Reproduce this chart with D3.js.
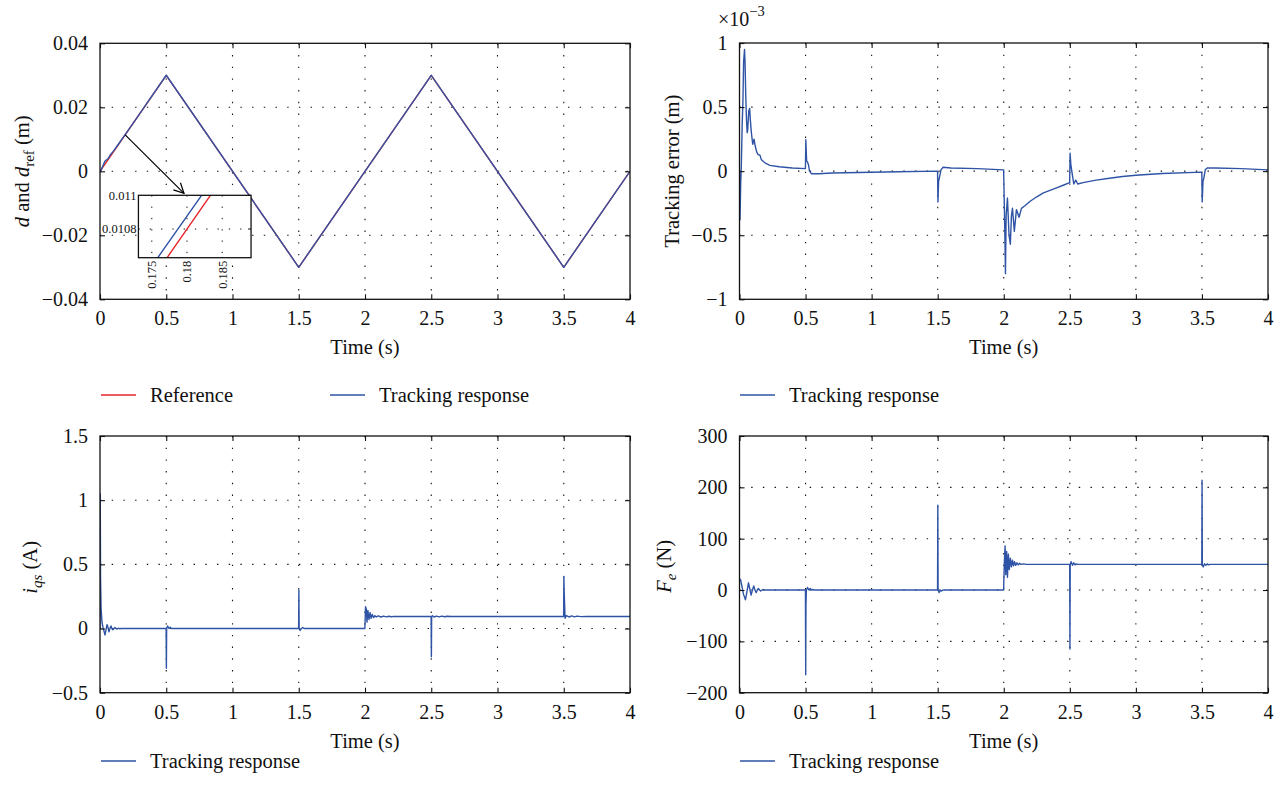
<!DOCTYPE html>
<html><head><meta charset="utf-8">
<script src="https://cdn.jsdelivr.net/npm/d3@7"></script>
<style>
body{margin:0;background:#fff}
svg{display:block}
text{font-family:"Liberation Serif","Times New Roman",serif;fill:#111}
</style>
</head><body>
<svg id="c" width="1285" height="805"></svg>
<script>
// ---------------- data ----------------
const timeTicks = [0,0.5,1,1.5,2,2.5,3,3.5,4];
const dTicks = [-0.04,-0.02,0,0.02,0.04];
const errTicks = [-1,-0.5,0,0.5,1];
const iqsTicks = [-0.5,0,0.5,1,1.5];
const feTicks = [-200,-100,0,100,200,300];
const insetXTicks = [0.175,0.18,0.185];
const insetYTicks = [0.0108,0.011];

// reference position d_ref (m)
const refT = [0,0.5,1.5,2.5,3.5,4];
const refD = [0,0.03,-0.03,0.03,-0.03,0];

// tracking response d (m)
const trackT = [0,0.004,0.012,0.02,0.03,0.038,0.05,0.06,0.08,0.1,0.14,0.175,0.19,0.3,0.5,1.5,2.5,3.5,4];
const trackD = [0,-0.00014,0.0007,0.0015,0.0025,0.00323,0.0036,0.0039,0.00529,0.00622,0.00853,0.01058,0.01147,0.01803,0.03002,-0.03,0.03,-0.03,0];

// tracking error (x1e-3 m)
const errT = [0,0.004,0.009,0.014,0.02,0.026,0.031,0.038,0.042,0.047,0.053,0.058,0.062,0.07,0.077,0.082,0.09,0.1,0.11,0.118,0.13,0.14,0.155,0.165,0.18,0.2,0.23,0.3,0.4,0.499,
  0.502,0.508,0.515,0.522,0.53,0.545,0.6,0.7,0.9,1.2,1.499,1.502,1.507,1.513,1.525,1.54,1.6,1.8,1.999,
  2.005,2.01,2.013,2.018,2.028,2.04,2.05,2.058,2.066,2.08,2.096,2.116,2.134,2.16,2.2,2.25,2.3,2.35,2.4,2.45,2.499,
  2.502,2.508,2.515,2.53,2.545,2.56,2.6,2.7,2.8,2.9,3.0,3.2,3.499,3.502,3.508,3.515,3.525,3.54,3.6,3.8,4];
const errV = [0,-0.38,-0.1,0.05,0.35,0.55,0.85,0.95,0.85,0.6,0.4,0.3,0.32,0.47,0.49,0.4,0.3,0.21,0.25,0.2,0.15,0.13,0.125,0.09,0.075,0.06,0.045,0.034,0.025,0.02,
  0.245,0.08,0.07,0.05,0,-0.02,-0.02,-0.015,-0.01,-0.005,0,-0.24,-0.08,-0.05,0.01,0.03,0.025,0.02,0.01,
  -0.3,-0.6,-0.8,-0.35,-0.21,-0.5,-0.57,-0.35,-0.29,-0.47,-0.3,-0.36,-0.29,-0.27,-0.235,-0.2,-0.17,-0.15,-0.13,-0.11,-0.09,
  0.14,0.05,0,-0.1,-0.07,-0.1,-0.09,-0.07,-0.055,-0.042,-0.032,-0.018,-0.008,-0.24,-0.08,-0.05,0.01,0.025,0.025,0.02,0.01];

// i_qs (A)
const iqsT = [0,0.002,0.004,0.008,0.015,0.022,0.03,0.038,0.045,0.053,0.06,0.068,0.075,0.083,0.09,0.098,0.105,0.113,0.12,0.13,0.14,0.15,0.16,0.18,
  0.499,0.501,0.503,0.51,0.52,0.53,0.54,1.499,1.501,1.503,1.51,1.52,1.53,1.54,
  1.999,2.004,2.01,2.015,2.022,2.03,2.038,2.046,2.055,2.065,2.075,2.085,2.1,2.12,2.14,2.16,2.18,2.2,2.22,2.25,
  2.499,2.501,2.503,2.51,2.52,2.54,2.56,2.58,2.6,2.62,2.65,3.499,3.501,3.503,3.51,3.52,3.54,3.56,3.58,3.6,3.63,3.67,4];
const iqsV = [0,1.05,0.4,0.16,0.05,0.01,-0.02,-0.05,-0.01,0.03,0.01,-0.025,0,0.02,0,-0.01,0,0.008,0,-0.004,0.003,-0.002,0.001,0,
  0,-0.31,0,0.02,0,0.01,0,0,0.3,0,-0.015,0,0.008,0,
  0,0.17,0.15,0.05,0.14,0.07,0.125,0.08,0.11,0.085,0.1,0.09,0.098,0.09,0.097,0.091,0.096,0.092,0.095,0.094,
  0.094,-0.22,0.094,0.1,0.09,0.097,0.091,0.097,0.092,0.096,0.094,0.094,0.405,0.3,0.08,0.1,0.09,0.098,0.091,0.097,0.093,0.094,0.094];

// F_e (N)
const feT = [0,0.008,0.02,0.03,0.045,0.055,0.068,0.078,0.088,0.098,0.108,0.117,0.126,0.135,0.143,0.152,0.16,0.17,0.178,0.19,
  0.499,0.501,0.503,0.506,0.515,0.525,0.535,0.545,0.555,0.565,1.499,1.501,1.503,1.51,1.52,1.53,1.54,
  1.999,2.004,2.01,2.015,2.022,2.028,2.035,2.042,2.05,2.058,2.066,2.074,2.082,2.09,2.1,2.11,2.12,2.13,2.15,2.17,2.2,
  2.499,2.501,2.503,2.51,2.52,2.53,2.54,2.55,2.56,3.499,3.501,3.503,3.51,3.52,3.53,3.54,3.55,3.56,4];
const feV = [22,20,5,-8,-19,-5,14,2,-10,0,8,0,-5,0,3,0,-2,0,1,0,
  0,-165,-30,0,5,0,3,0,1,0,0,165,0,-5,0,-2,0,
  0,50,86,30,75,25,70,40,62,45,58,47,55,48,53,49,52,50,51,50,50,
  50,-115,50,55,48,53,49,51,50,50,214,50,45,51,48,51,49,50,50];

// inset window and annotation arrow (data coordinates of the main axes)
const insetBoxT = [0.29,1.14];
const insetBoxD = [-0.027,-0.0075];
const insetDomT = [0.1731,0.1891];
const insetDomD = [0.01063,0.011];
const arrowFrom = [0.19,0.0114];
const arrowTo = [0.634,-0.0069];

// ---------------- drawing ----------------
const BLUE = "#2f54a5", RED = "#e8262b";
const TICK_FS = 20, LAB_FS = 20.5;
const svg = d3.select("#c");
const fmt = d3.format("~g");
const zip = (a,b) => a.map((v,i)=>[v,b[i]]);

const defs = svg.append("defs");
defs.append("marker").attr("id","arr").attr("viewBox","0 0 12 12")
  .attr("refX",11).attr("refY",6).attr("markerWidth",12).attr("markerHeight",12)
  .attr("markerUnits","userSpaceOnUse").attr("orient","auto")
  .append("path").attr("d","M1,1 L11,6 L1,11").attr("fill","none").attr("stroke","#000").attr("stroke-width",1.2);

let clipId = 0;
function panel(cfg){
  const x = d3.scaleLinear().domain([0,4]).range([cfg.x0,cfg.x1]);
  const y = d3.scaleLinear().domain(cfg.yDom).range([cfg.y1,cfg.y0]);
  const g = svg.append("g");
  // grid
  g.selectAll(null).data(timeTicks.filter(t=>t>0&&t<4)).enter().append("line")
    .attr("x1",d=>x(d)).attr("x2",d=>x(d)).attr("y1",cfg.y0).attr("y2",cfg.y1)
    .attr("stroke","#111").attr("stroke-width",1.1).attr("stroke-dasharray","1.4,10.3");
  g.selectAll(null).data(cfg.yTicks.filter(t=>t>cfg.yDom[0]&&t<cfg.yDom[1])).enter().append("line")
    .attr("y1",d=>y(d)).attr("y2",d=>y(d)).attr("x1",cfg.x0).attr("x2",cfg.x1)
    .attr("stroke","#111").attr("stroke-width",1.1).attr("stroke-dasharray","1.4,10.3");
  // clip
  const id = "clip"+(clipId++);
  defs.append("clipPath").attr("id",id).append("rect")
    .attr("x",cfg.x0).attr("y",cfg.y0).attr("width",cfg.x1-cfg.x0).attr("height",cfg.y1-cfg.y0);
  const line = d3.line().x(d=>x(d[0])).y(d=>y(d[1]));
  const sg = g.append("g").attr("clip-path",`url(#${id})`);
  cfg.series.forEach(s=>{
    sg.append("path").attr("d",line(s.data)).attr("fill","none")
      .attr("stroke",s.color).attr("stroke-width",1.4).attr("stroke-linejoin","round");
  });
  // axes (ticks inside, box)
  const gb = g.append("g").attr("transform",`translate(0,${cfg.y1})`)
    .call(d3.axisBottom(x).tickValues(timeTicks).tickFormat(fmt).tickSizeInner(-5).tickSizeOuter(0).tickPadding(12));
  const gt = g.append("g").attr("transform",`translate(0,${cfg.y0})`)
    .call(d3.axisTop(x).tickValues(timeTicks).tickFormat("").tickSizeInner(-5).tickSizeOuter(0));
  const gl = g.append("g").attr("transform",`translate(${cfg.x0},0)`)
    .call(d3.axisLeft(y).tickValues(cfg.yTicks).tickFormat(fmt).tickSizeInner(-5).tickSizeOuter(0).tickPadding(12));
  const gr = g.append("g").attr("transform",`translate(${cfg.x1},0)`)
    .call(d3.axisRight(y).tickValues(cfg.yTicks).tickFormat("").tickSizeInner(-5).tickSizeOuter(0));
  [gb,gt,gl,gr].forEach(a=>{
    a.select(".domain").remove();
    a.selectAll(".tick line").attr("stroke","#111").attr("stroke-width",1.1);
    a.selectAll("text").attr("font-size",TICK_FS).attr("fill","#111").attr("font-family","Liberation Serif, serif");
  });
  g.append("rect").attr("x",cfg.x0).attr("y",cfg.y0).attr("width",cfg.x1-cfg.x0).attr("height",cfg.y1-cfg.y0)
    .attr("fill","none").attr("stroke","#111").attr("stroke-width",1.3);
  // x label
  g.append("text").attr("x",(cfg.x0+cfg.x1)/2).attr("y",cfg.y1+55).attr("text-anchor","middle")
    .attr("font-size",LAB_FS).text("Time (s)");
  // y label
  const yl = g.append("text").attr("text-anchor","middle").attr("font-size",LAB_FS)
    .attr("transform",`translate(${cfg.ylx},${(cfg.y0+cfg.y1)/2+cfg.yly}) rotate(-90)`).attr("dy","0.35em");
  cfg.ylabel(yl);
  // legend
  cfg.legend.forEach(l=>{
    g.append("line").attr("x1",l.x).attr("x2",l.x+35).attr("y1",cfg.legY).attr("y2",cfg.legY)
      .attr("stroke",l.color).attr("stroke-width",1.4);
    g.append("text").attr("x",l.x+49).attr("y",cfg.legY).attr("dy","0.33em").attr("font-size",LAB_FS).text(l.name);
  });
  return {x,y,g};
}

// top-left
const tl = panel({x0:100,x1:630,y0:43.3,y1:299.3,yDom:[-0.04,0.04],yTicks:dTicks,
  series:[{data:zip(refT,refD),color:RED},{data:zip(trackT,trackD),color:BLUE}],
  ylx:22,yly:0,
  ylabel:t=>{t.append("tspan").attr("font-style","italic").text("d");
    t.append("tspan").text(" and ");
    t.append("tspan").attr("font-style","italic").text("d");
    t.append("tspan").attr("font-size",15).attr("dy",5).text("ref");
    t.append("tspan").attr("dy",-5).text(" (m)");},
  legY:395, legend:[{x:101,color:RED,name:"Reference"},{x:330,color:BLUE,name:"Tracking response"}]});

// inset
{
  const X = tl.x, Y = tl.y;
  tl.g.append("line").attr("x1",X(arrowFrom[0])).attr("y1",Y(arrowFrom[1]))
    .attr("x2",X(arrowTo[0])).attr("y2",Y(arrowTo[1])).attr("stroke","#000").attr("stroke-width",1.2)
    .attr("marker-end","url(#arr)");
  const bx0 = X(insetBoxT[0]), bx1 = X(insetBoxT[1]), by0 = Y(insetBoxD[1]), by1 = Y(insetBoxD[0]);
  const ix = d3.scaleLinear().domain(insetDomT).range([bx0,bx1]);
  const iy = d3.scaleLinear().domain(insetDomD).range([by1,by0]);
  const ig = tl.g.append("g");
  ig.append("rect").attr("x",bx0).attr("y",by0).attr("width",bx1-bx0).attr("height",by1-by0).attr("fill","#fff");
  ig.selectAll(null).data(insetXTicks).enter().append("line")
    .attr("x1",d=>ix(d)).attr("x2",d=>ix(d)).attr("y1",by0).attr("y2",by1)
    .attr("stroke","#111").attr("stroke-width",1).attr("stroke-dasharray","1.3,10");
  ig.selectAll(null).data(insetYTicks.filter(v=>v<insetDomD[1])).enter().append("line")
    .attr("y1",d=>iy(d)).attr("y2",d=>iy(d)).attr("x1",bx0).attr("x2",bx1)
    .attr("stroke","#111").attr("stroke-width",1).attr("stroke-dasharray","1.3,10");
  defs.append("clipPath").attr("id","clipInset").append("rect")
    .attr("x",bx0).attr("y",by0).attr("width",bx1-bx0).attr("height",by1-by0);
  const il = d3.line().x(d=>ix(d[0])).y(d=>iy(d[1]));
  const ic = ig.append("g").attr("clip-path","url(#clipInset)");
  ic.append("path").attr("d",il(zip(refT,refD))).attr("fill","none").attr("stroke",RED).attr("stroke-width",1.4);
  ic.append("path").attr("d",il(zip(trackT,trackD))).attr("fill","none").attr("stroke",BLUE).attr("stroke-width",1.4);
  ig.append("rect").attr("x",bx0).attr("y",by0).attr("width",bx1-bx0).attr("height",by1-by0)
    .attr("fill","none").attr("stroke","#111").attr("stroke-width",1.3);
  // inset ticks
  ig.selectAll(null).data(insetYTicks).enter().append("text")
    .attr("x",bx0-2).attr("y",d=>iy(d)).attr("dy","0.35em").attr("text-anchor","end").attr("font-size",12.5).text(fmt);
  ig.selectAll(null).data(insetYTicks).enter().append("line")
    .attr("x1",bx1-3).attr("x2",bx1).attr("y1",d=>iy(d)).attr("y2",d=>iy(d)).attr("stroke","#111");
  ig.selectAll(null).data(insetXTicks).enter().append("text")
    .attr("transform",d=>`translate(${ix(d)},${by1+3}) rotate(-90)`).attr("dy","0.35em")
    .attr("text-anchor","end").attr("font-size",12.5).text(fmt);
}

// top-right
const tr = panel({x0:739.5,x1:1268,y0:43,y1:299.3,yDom:[-1,1],yTicks:errTicks,
  series:[{data:zip(errT,errV),color:BLUE}],
  ylx:672,yly:0,
  ylabel:t=>t.text("Tracking error (m)"),
  legY:395, legend:[{x:740,color:BLUE,name:"Tracking response"}]});
{
  const t = tr.g.append("text").attr("x",718).attr("y",26).attr("font-size",TICK_FS);
  t.append("tspan").text("×10");
  t.append("tspan").attr("font-size",14.5).attr("dy",-10).text("−3");
}

// bottom-left
panel({x0:100,x1:630,y0:436,y1:692.7,yDom:[-0.5,1.5],yTicks:iqsTicks,
  series:[{data:zip(iqsT,iqsV),color:BLUE}],
  ylx:30,yly:3,
  ylabel:t=>{t.append("tspan").attr("font-style","italic").text("i");
    t.append("tspan").attr("font-style","italic").attr("font-size",15).attr("dy",5).text("qs");
    t.append("tspan").attr("dy",-5).text(" (A)");},
  legY:761, legend:[{x:101,color:BLUE,name:"Tracking response"}]});

// bottom-right
panel({x0:739.5,x1:1268,y0:436,y1:692.7,yDom:[-200,300],yTicks:feTicks,
  series:[{data:zip(feT,feV),color:BLUE}],
  ylx:664,yly:2,
  ylabel:t=>{t.append("tspan").attr("font-style","italic").text("F");
    t.append("tspan").attr("font-style","italic").attr("font-size",15).attr("dy",5).text("e");
    t.append("tspan").attr("dy",-5).text(" (N)");},
  legY:761, legend:[{x:740,color:BLUE,name:"Tracking response"}]});
</script>
</body></html>
